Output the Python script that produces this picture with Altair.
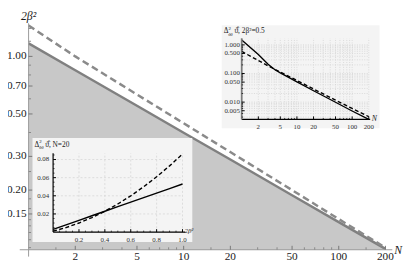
import altair as alt
import pandas as pd

SERIF = "Liberation Serif, Times New Roman, serif"

# ---------------- main plot data ----------------
main_N = [1, 2, 5, 10, 20, 50, 100, 200]
main_solid = [1.17, 0.846, 0.552, 0.399, 0.289, 0.188, 0.136, 0.0985]
main_dashed = [1.45, 1.0, 0.632, 0.447, 0.316, 0.2, 0.141, 0.1]
main_x_domain = [1, 200]
main_y_domain = [0.0975, 1.49]
main_x_ticks = [2, 5, 10, 20, 50, 100, 200]
main_x_ticklabels = ["2", "5", "10", "20", "50", "100", "200"]
main_x_minor = [1.5, 3, 4, 6, 7, 8, 9, 15, 30, 40, 60, 70, 80, 90, 150]
main_y_ticks = [0.15, 0.2, 0.3, 0.5, 0.7, 1.0]
main_y_ticklabels = ["0.15", "0.20", "0.30", "0.50", "0.70", "1.00"]
main_y_minor = [0.1, 0.11, 0.12, 0.13, 0.14, 0.16, 0.18, 0.25, 0.4, 0.6, 0.8, 0.9, 1.2, 1.4]

# ---------------- inset 1 (N = 20) ----------------
in1_b = [0.0, 0.1, 0.2, 0.3, 0.4, 0.5, 0.6, 0.7, 0.8, 0.9, 1.0]
in1_solid = [0.003, 0.008, 0.013, 0.018, 0.023, 0.028, 0.033, 0.038, 0.043, 0.048, 0.053]
in1_dashed = [0.001, 0.005, 0.010, 0.016, 0.023, 0.031, 0.040, 0.050, 0.061, 0.073, 0.086]
in1_x_domain = [0, 1.0]
in1_y_domain = [0, 0.087]
in1_x_ticks = [0.2, 0.4, 0.6, 0.8, 1.0]
in1_x_ticklabels = ["0.2", "0.4", "0.6", "0.8", "1.0"]
in1_x_minor = [0.05, 0.1, 0.15, 0.25, 0.3, 0.35, 0.45, 0.5, 0.55, 0.65, 0.7, 0.75, 0.85, 0.9, 0.95]
in1_y_ticks = [0.02, 0.04, 0.06, 0.08]
in1_y_ticklabels = ["0.02", "0.04", "0.06", "0.08"]
in1_y_minor = [0.005, 0.01, 0.015, 0.025, 0.03, 0.035, 0.045, 0.05, 0.055, 0.065, 0.07, 0.075, 0.085]

# ---------------- inset 2 (2β² = 0.5) ----------------
in2_N = [1, 2, 3, 4, 5, 10, 20, 50, 100, 200]
in2_solid = [1.48, 0.46, 0.21, 0.135, 0.105, 0.051, 0.025, 0.0099, 0.0049, 0.0025]
in2_dashed = [0.59, 0.285, 0.185, 0.139, 0.112, 0.057, 0.0288, 0.0117, 0.0060, 0.0031]
in2_x_domain = [1, 200]
in2_y_domain = [0.0025, 1.7]
in2_x_ticks = [2, 5, 10, 20, 50, 100, 200]
in2_x_ticklabels = ["2", "5", "10", "20", "50", "100", "200"]
in2_x_minor = [3, 4, 6, 7, 8, 9, 30, 40, 60, 70, 80, 90]
in2_y_ticks = [0.005, 0.01, 0.05, 0.1, 0.5, 1.0]
in2_y_ticklabels = ["0.005", "0.010", "0.050", "0.100", "0.500", "1.000"]
in2_y_minor = [0.003, 0.004, 0.006, 0.007, 0.008, 0.009, 0.02, 0.03, 0.04, 0.06,
               0.07, 0.08, 0.09, 0.2, 0.3, 0.4, 0.6, 0.7, 0.8, 0.9]
in2_x_grid = [2, 3, 4, 5, 6, 7, 8, 9, 10, 20, 30, 40, 50, 60, 70, 80, 90, 100, 200]
in2_y_grid = [0.003, 0.004, 0.005, 0.006, 0.007, 0.008, 0.009, 0.01, 0.02, 0.03, 0.04,
              0.05, 0.06, 0.07, 0.08, 0.09, 0.1, 0.2, 0.3, 0.4, 0.5, 0.6, 0.7, 0.8, 0.9, 1.0]

# text
main_ylabel = "2β²"
main_xlabel = "N"
title_delta = "Δ"
title_sup = "2"
title_sub = "ϑϑ"
in1_title_rest = "ϑ\u0302, N=20"
in2_title_rest = "ϑ\u0302, 2β²=0.5"
in1_xlabel = "2β²"
in2_xlabel = "N"

W, H = 364, 231
ONE = pd.DataFrame({"d": [0]})


def X(field, scale):
    return alt.X(field, type="quantitative", scale=scale, axis=None)


def Y(field, scale):
    return alt.Y(field, type="quantitative", scale=scale, axis=None)


def XD(v, scale):
    return alt.XDatum(v, scale=scale, axis=None)


def YD(v, scale):
    return alt.YDatum(v, scale=scale, axis=None)


def txt(s, x, y, size, align="left", baseline="alphabetic", style="normal", color="#1a1a1a"):
    return alt.Chart(pd.DataFrame({"t": [s]})).mark_text(
        font=SERIF, fontSize=size, align=align, baseline=baseline, fontStyle=style, color=color
    ).encode(x=alt.value(x), y=alt.value(y), text="t:N")


layers = []

# ================= main =================
xs_m = alt.Scale(type="log", domain=main_x_domain, range=[0, W], nice=False)
ys_m = alt.Scale(type="log", domain=main_y_domain, range=[H, 0], nice=False)
df_main = pd.DataFrame({"N": main_N, "solid": main_solid, "dashed": main_dashed})

layers.append(alt.Chart(df_main).mark_area(color="#c8c8c8", opacity=1).encode(
    x=X("N", xs_m), y=Y("solid", ys_m), y2=alt.Y2Datum(main_y_domain[0])))
layers.append(alt.Chart(df_main).mark_line(color="#808080", strokeWidth=2.5).encode(
    x=X("N", xs_m), y=Y("solid", ys_m)))
layers.append(alt.Chart(df_main).mark_line(color="#8a8a8a", strokeWidth=2.5, strokeDash=[7, 4]).encode(
    x=X("N", xs_m), y=Y("dashed", ys_m)))

layers.append(alt.Chart(ONE).mark_rule(color="#9a9a9a", strokeWidth=1).encode(
    x=alt.value(-9), x2=alt.value(W + 7), y=alt.value(H)))
layers.append(alt.Chart(ONE).mark_rule(color="#9a9a9a", strokeWidth=1).encode(
    x=alt.value(0), y=alt.value(0), y2=alt.value(H + 7)))

df_mxt = pd.DataFrame({"v": main_x_ticks, "lab": main_x_ticklabels})
df_myt = pd.DataFrame({"v": main_y_ticks, "lab": main_y_ticklabels})
layers.append(alt.Chart(pd.DataFrame({"v": main_x_minor})).mark_rule(color="#888888").encode(
    x=X("v", xs_m), y=alt.value(H), y2=alt.value(H - 2.5)))
layers.append(alt.Chart(df_mxt).mark_rule(color="#777777").encode(
    x=X("v", xs_m), y=alt.value(H), y2=alt.value(H - 4)))
layers.append(alt.Chart(pd.DataFrame({"v": main_y_minor})).mark_rule(color="#888888").encode(
    y=Y("v", ys_m), x=alt.value(0), x2=alt.value(2.5)))
layers.append(alt.Chart(df_myt).mark_rule(color="#777777").encode(
    y=Y("v", ys_m), x=alt.value(0), x2=alt.value(4)))
layers.append(alt.Chart(df_mxt).mark_text(font=SERIF, fontSize=11.5, color="#1a1a1a", baseline="alphabetic").encode(
    x=X("v", xs_m), y=alt.value(H + 10), text="lab:N"))
layers.append(alt.Chart(df_myt).mark_text(font=SERIF, fontSize=11.5, color="#1a1a1a", align="right",
                                          baseline="middle").encode(
    y=Y("v", ys_m), x=alt.value(-2), text="lab:N"))
layers.append(txt(main_ylabel, 0, -3, 12, align="center", style="italic"))
layers.append(txt(main_xlabel, W + 9, H, 12, baseline="middle", style="italic"))

# ================= inset 1 =================
xs1 = alt.Scale(domain=in1_x_domain, range=[25, 157], nice=False, zero=False)
ys1 = alt.Scale(domain=in1_y_domain, range=[213, 132.5], nice=False)
df1 = pd.DataFrame({"b": in1_b, "solid": in1_solid, "dashed": in1_dashed})
df1xt = pd.DataFrame({"v": in1_x_ticks, "lab": in1_x_ticklabels})
df1yt = pd.DataFrame({"v": in1_y_ticks, "lab": in1_y_ticklabels})

layers.append(alt.Chart(ONE).mark_rect(color="#f4f4f4").encode(
    x=alt.value(4), x2=alt.value(167), y=alt.value(117), y2=alt.value(223)))
layers.append(alt.Chart(df1xt).mark_rule(color="#d6d6d6", strokeDash=[2, 2], strokeWidth=0.8).encode(
    x=X("v", xs1), y=YD(in1_y_domain[0], ys1), y2=alt.Y2Datum(in1_y_domain[1])))
layers.append(alt.Chart(df1yt).mark_rule(color="#d6d6d6", strokeDash=[2, 2], strokeWidth=0.8).encode(
    y=Y("v", ys1), x=XD(in1_x_domain[0], xs1), x2=alt.X2Datum(in1_x_domain[1])))
layers.append(alt.Chart(df1).mark_line(color="black", strokeWidth=1.4).encode(
    x=X("b", xs1), y=Y("solid", ys1)))
layers.append(alt.Chart(df1).mark_line(color="black", strokeWidth=1.4, strokeDash=[4, 2.5]).encode(
    x=X("b", xs1), y=Y("dashed", ys1)))
layers.append(alt.Chart(ONE).mark_rule(color="black", strokeWidth=1.2).encode(
    x=XD(0, xs1), x2=alt.X2Datum(1.02), y=YD(0, ys1)))
layers.append(alt.Chart(ONE).mark_rule(color="black", strokeWidth=1.2).encode(
    x=XD(0, xs1), y=YD(0, ys1), y2=alt.Y2Datum(in1_y_domain[1])))
layers.append(alt.Chart(df1xt).mark_rule(color="black").encode(
    x=X("v", xs1), y=alt.value(213), y2=alt.value(210)))
layers.append(alt.Chart(pd.DataFrame({"v": in1_x_minor})).mark_rule(color="black", strokeWidth=0.7).encode(
    x=X("v", xs1), y=alt.value(213), y2=alt.value(211.5)))
layers.append(alt.Chart(df1yt).mark_rule(color="black").encode(
    y=Y("v", ys1), x=alt.value(25), x2=alt.value(28)))
layers.append(alt.Chart(pd.DataFrame({"v": in1_y_minor})).mark_rule(color="black", strokeWidth=0.7).encode(
    y=Y("v", ys1), x=alt.value(25), x2=alt.value(26.5)))
layers.append(alt.Chart(df1xt).mark_text(font=SERIF, fontSize=7, color="#333").encode(
    x=X("v", xs1), y=alt.value(221), text="lab:N"))
layers.append(alt.Chart(df1yt).mark_text(font=SERIF, fontSize=7, color="#333", align="right",
                                         baseline="middle").encode(
    y=Y("v", ys1), x=alt.value(21), text="lab:N"))
layers += [txt(title_delta, 6, 126, 7.5), txt(title_sup, 10.8, 122.5, 5), txt(title_sub, 10.6, 128.5, 4.5),
           txt(in1_title_rest, 17, 126, 7.5), txt(in1_xlabel, 159, 214, 7, style="italic")]

# ================= inset 2 =================
xs2 = alt.Scale(type="log", domain=in2_x_domain, range=[217.4, 347], nice=False)
ys2 = alt.Scale(type="log", domain=in2_y_domain, range=[98, 15.3], nice=False)
df2 = pd.DataFrame({"N": in2_N, "solid": in2_solid, "dashed": in2_dashed})
df2xt = pd.DataFrame({"v": in2_x_ticks, "lab": in2_x_ticklabels})
df2yt = pd.DataFrame({"v": in2_y_ticks, "lab": in2_y_ticklabels})

layers.append(alt.Chart(ONE).mark_rect(color="#f4f4f4").encode(
    x=alt.value(197), x2=alt.value(358), y=alt.value(2), y2=alt.value(107)))
layers.append(alt.Chart(pd.DataFrame({"v": in2_x_grid})).mark_rule(
    color="#d4d4d4", strokeDash=[1, 1.5], strokeWidth=0.8).encode(
    x=X("v", xs2), y=YD(in2_y_domain[0], ys2), y2=alt.Y2Datum(in2_y_domain[1])))
layers.append(alt.Chart(pd.DataFrame({"v": in2_y_grid})).mark_rule(
    color="#d4d4d4", strokeDash=[1, 1.5], strokeWidth=0.8).encode(
    y=Y("v", ys2), x=XD(in2_x_domain[0], xs2), x2=alt.X2Datum(in2_x_domain[1])))
layers.append(alt.Chart(df2).mark_line(color="black", strokeWidth=1.4).encode(
    x=X("N", xs2), y=Y("solid", ys2)))
layers.append(alt.Chart(df2).mark_line(color="black", strokeWidth=1.4, strokeDash=[4, 2.5]).encode(
    x=X("N", xs2), y=Y("dashed", ys2)))
layers.append(alt.Chart(ONE).mark_rule(color="black", strokeWidth=1.2).encode(
    x=XD(1, xs2), x2=alt.X2Datum(212), y=YD(in2_y_domain[0], ys2)))
layers.append(alt.Chart(ONE).mark_rule(color="#7a7a7a", strokeWidth=1.8).encode(
    x=XD(1, xs2), y=YD(in2_y_domain[0], ys2), y2=alt.Y2Datum(in2_y_domain[1])))
layers.append(alt.Chart(df2xt).mark_rule(color="black").encode(
    x=X("v", xs2), y=alt.value(98), y2=alt.value(95)))
layers.append(alt.Chart(pd.DataFrame({"v": in2_x_minor})).mark_rule(color="black", strokeWidth=0.7).encode(
    x=X("v", xs2), y=alt.value(98), y2=alt.value(96.5)))
layers.append(alt.Chart(df2yt).mark_rule(color="black").encode(
    y=Y("v", ys2), x=alt.value(217.4), x2=alt.value(220.4)))
layers.append(alt.Chart(pd.DataFrame({"v": in2_y_minor})).mark_rule(color="black", strokeWidth=0.7).encode(
    y=Y("v", ys2), x=alt.value(217.4), x2=alt.value(218.9)))
layers.append(alt.Chart(df2xt).mark_text(font=SERIF, fontSize=7, color="#333").encode(
    x=X("v", xs2), y=alt.value(106), text="lab:N"))
layers.append(alt.Chart(df2yt).mark_text(font=SERIF, fontSize=7, color="#333", align="right",
                                         baseline="middle").encode(
    y=Y("v", ys2), x=alt.value(215.5), text="lab:N"))
layers += [txt(title_delta, 199, 10, 7.5), txt(title_sup, 203.8, 6.5, 5), txt(title_sub, 203.6, 12.5, 4.5),
           txt(in2_title_rest, 210, 10, 7.5), txt(in2_xlabel, 350, 98, 8, baseline="middle", style="italic")]

chart = alt.layer(*layers).resolve_scale(
    x="independent", y="independent"
).properties(
    width=W, height=H,
    padding={"left": 21, "top": 13, "right": 22, "bottom": 14},
    autosize=alt.AutoSizeParams(type="none"),
    background="white",
).configure_view(stroke=None)

chart.save("out.html", embed_options={"renderer": "svg", "actions": False})
